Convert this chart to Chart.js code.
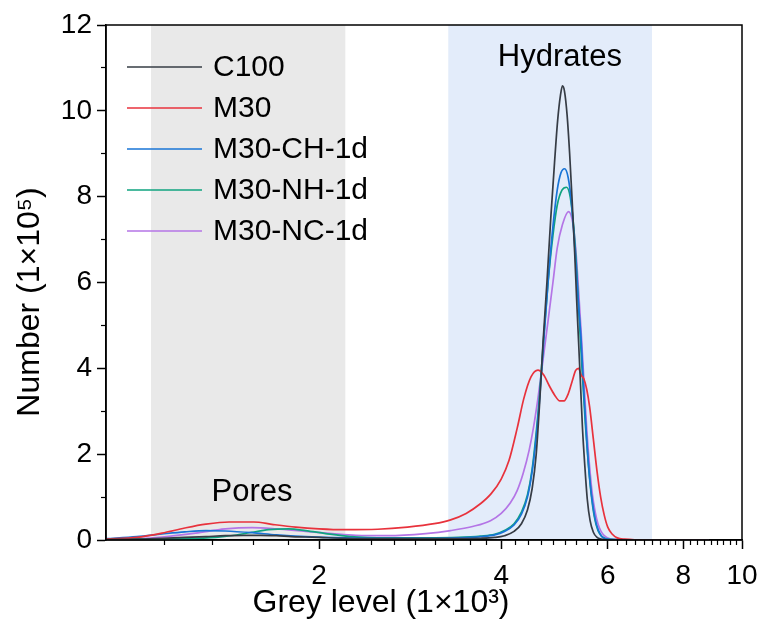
<!DOCTYPE html>
<html>
<head>
<meta charset="utf-8">
<script src="https://cdn.jsdelivr.net/npm/chart.js@4.4.0/dist/chart.umd.min.js"></script>
<style>
  html, body { margin: 0; padding: 0; background: #fff; }
</style>
</head>
<body>
<canvas id="grey-chart" width="771" height="641"></canvas>
<script>
// series names / colours
const seriesNames = ["C100", "M30", "M30-CH-1d", "M30-NH-1d", "M30-NC-1d"];
const seriesColors = ["#363c45", "#e8323c", "#1874d6", "#0fa37f", "#b475e6"];

// grey level (x 1000) and number (x 1e5)
const c100X = [0.889, 1.0, 1.1, 1.2, 1.3, 1.4, 1.5, 1.6, 1.7, 1.8, 1.9, 2.0, 2.2, 2.6, 3.0, 3.4, 3.7, 3.9, 4.05, 4.2, 4.32, 4.42, 4.5, 4.57, 4.63, 4.69, 4.76, 4.83, 4.9, 4.96, 5.01, 5.05, 5.09, 5.14, 5.19, 5.24, 5.29, 5.33, 5.37, 5.41, 5.45, 5.5, 5.55, 5.61, 5.68, 5.76, 5.85, 6.0, 7.0, 8.8];
const c100Y = [0.01, 0.02, 0.04, 0.06, 0.08, 0.1, 0.11, 0.11, 0.1, 0.08, 0.07, 0.06, 0.04, 0.03, 0.03, 0.03, 0.04, 0.06, 0.1, 0.2, 0.38, 0.7, 1.2, 2.0, 3.2, 4.6, 6.0, 7.5, 8.8, 9.8, 10.35, 10.58, 10.45, 9.9, 9.0, 7.9, 6.7, 5.6, 4.6, 3.6, 2.6, 1.7, 0.95, 0.45, 0.18, 0.06, 0.02, 0, 0, 0];

const m30X = [0.889, 1.0, 1.1, 1.2, 1.3, 1.42, 1.56, 1.68, 1.83, 2.0, 2.2, 2.5, 2.8, 3.1, 3.3, 3.5, 3.7, 3.85, 4.0, 4.12, 4.25, 4.36, 4.48, 4.6, 4.7, 4.8, 4.9, 5.0, 5.08, 5.16, 5.24, 5.31, 5.37, 5.42, 5.48, 5.54, 5.6, 5.68, 5.76, 5.84, 5.92, 6.0, 6.1, 6.22, 6.4, 7.0, 8.8];
const m30Y = [0.02, 0.06, 0.16, 0.28, 0.37, 0.42, 0.42, 0.36, 0.3, 0.26, 0.24, 0.25, 0.3, 0.38, 0.47, 0.62, 0.85, 1.08, 1.42, 1.85, 2.6, 3.3, 3.8, 3.96, 3.85, 3.6, 3.38, 3.24, 3.24, 3.4, 3.7, 3.95, 4.0, 3.85, 3.75, 3.5, 3.1, 2.35, 1.6, 1.0, 0.58, 0.3, 0.14, 0.05, 0.02, 0, 0];

const chX = [0.889, 1.0, 1.1, 1.2, 1.3, 1.4, 1.55, 1.7, 1.9, 2.2, 2.6, 3.0, 3.4, 3.7, 3.9, 4.05, 4.2, 4.32, 4.42, 4.5, 4.57, 4.63, 4.7, 4.78, 4.87, 4.95, 5.02, 5.09, 5.16, 5.23, 5.3, 5.36, 5.42, 5.48, 5.54, 5.6, 5.67, 5.75, 5.85, 5.95, 6.1, 7.0, 8.8];
const chY = [0.03, 0.08, 0.14, 0.19, 0.22, 0.21, 0.17, 0.12, 0.08, 0.05, 0.04, 0.04, 0.05, 0.08, 0.12, 0.2, 0.35, 0.6, 1.0, 1.6, 2.4, 3.3, 4.6, 6.0, 7.3, 8.15, 8.55, 8.65, 8.45, 7.8, 6.7, 5.6, 4.7, 3.4, 2.3, 1.45, 0.8, 0.35, 0.1, 0.03, 0.01, 0, 0];

const nhX = [0.889, 1.0, 1.2, 1.35, 1.45, 1.55, 1.65, 1.78, 1.9, 2.05, 2.25, 2.6, 3.0, 3.4, 3.7, 3.9, 4.05, 4.2, 4.32, 4.42, 4.5, 4.57, 4.63, 4.7, 4.78, 4.87, 4.95, 5.04, 5.13, 5.2, 5.27, 5.33, 5.39, 5.45, 5.51, 5.57, 5.63, 5.7, 5.78, 5.88, 6.0, 6.2, 7.0, 8.8];
const nhY = [0.01, 0.02, 0.03, 0.06, 0.11, 0.18, 0.24, 0.26, 0.22, 0.15, 0.08, 0.05, 0.05, 0.06, 0.09, 0.13, 0.22, 0.38, 0.65, 1.05, 1.65, 2.5, 3.4, 4.7, 6.0, 7.1, 7.8, 8.15, 8.22, 8.0, 7.3, 6.3, 5.0, 3.8, 2.7, 1.8, 1.1, 0.55, 0.22, 0.07, 0.02, 0.01, 0, 0];

const ncX = [0.889, 1.0, 1.1, 1.25, 1.4, 1.55, 1.7, 1.9, 2.1, 2.3, 2.6, 3.0, 3.3, 3.6, 3.84, 4.0, 4.14, 4.25, 4.35, 4.45, 4.52, 4.6, 4.69, 4.78, 4.87, 4.95, 5.05, 5.17, 5.25, 5.31, 5.37, 5.43, 5.49, 5.54, 5.6, 5.66, 5.72, 5.78, 5.84, 5.92, 6.05, 6.3, 7.0, 8.8];
const ncY = [0.01, 0.03, 0.07, 0.16, 0.26, 0.29, 0.26, 0.2, 0.15, 0.11, 0.1, 0.15, 0.22, 0.32, 0.45, 0.62, 0.86, 1.15, 1.56, 2.1, 2.6, 3.3, 4.2, 5.1, 6.0, 6.8, 7.35, 7.65, 7.4, 6.8, 5.8, 4.7, 3.5, 2.56, 1.7, 1.05, 0.65, 0.38, 0.22, 0.1, 0.03, 0.01, 0, 0];

const seriesX = [c100X, m30X, chX, nhX, ncX];
const seriesY = [c100Y, m30Y, chY, nhY, ncY];

// axis ticks
const xMin = 0.889, xMax = 10;
const xMajorTicks = [2, 4, 6, 8, 10];
const xMinorTicks = [1.111, 1.333, 1.556, 1.778, 2.222, 2.444, 2.667, 2.889, 3.111, 3.333, 3.556, 3.778,
  4.222, 4.444, 4.667, 4.889, 5.111, 5.333, 5.556, 5.778, 6.222, 6.444, 6.667, 6.889, 7.111, 7.333, 7.556, 7.778,
  8.222, 8.444, 8.667, 8.889, 9.111, 9.333, 9.556, 9.778];
const yMajorTicks = [0, 2, 4, 6, 8, 10, 12];
const yMinorTicks = [1, 3, 5, 7, 9, 11];

// shaded ranges and their labels
const bandNames = ["Pores", "Hydrates"];
const bandFrom = [1.055, 3.27];
const bandTo = [2.21, 7.1];
const bandColors = ["#e9e9e9", "#e3ecfa"];
const bandLabelX = [1.55, 5.0];
const bandLabelY = [1.1, 11.25];

const xTitle = "Grey level (1×10³)";
const yTitle = "Number (1×10⁵)";

const FONT = "'Liberation Sans', Arial, sans-serif";

const datasets = seriesNames.map((name, i) => ({
  label: name,
  data: seriesX[i].map((x, j) => ({ x: x, y: seriesY[i][j] })),
  borderColor: seriesColors[i],
  backgroundColor: seriesColors[i],
  borderWidth: 1.7,
  pointRadius: 0,
  cubicInterpolationMode: "monotone",
  fill: false,
}));

// bands behind everything
const bandsPlugin = {
  id: "bands",
  beforeDraw(chart) {
    const { ctx, chartArea, scales } = chart;
    ctx.save();
    bandNames.forEach((n, i) => {
      const x1 = scales.x.getPixelForValue(bandFrom[i]);
      const x2 = scales.x.getPixelForValue(bandTo[i]);
      ctx.fillStyle = bandColors[i];
      ctx.fillRect(x1, chartArea.top, x2 - x1, chartArea.bottom - chartArea.top);
    });
    ctx.restore();
  },
};

// frame, band labels, legend and axis titles on top
const overlayPlugin = {
  id: "overlay",
  afterDatasetsDraw(chart) {
    const { ctx, chartArea, scales } = chart;
    ctx.save();
    ctx.strokeStyle = "#000";
    ctx.lineWidth = 1.5;
    ctx.strokeRect(chartArea.left, chartArea.top, chartArea.right - chartArea.left, chartArea.bottom - chartArea.top);

    ctx.fillStyle = "#000";
    ctx.font = "31px " + FONT;
    ctx.textAlign = "center";
    ctx.textBaseline = "middle";
    bandNames.forEach((n, i) => {
      ctx.fillText(n, scales.x.getPixelForValue(bandLabelX[i]), scales.y.getPixelForValue(bandLabelY[i]));
    });

    // legend
    ctx.font = "30px " + FONT;
    ctx.textAlign = "left";
    chart.data.datasets.forEach((ds, i) => {
      const y = chartArea.top + 42 + i * 41;
      ctx.strokeStyle = ds.borderColor;
      ctx.lineWidth = 1.5;
      ctx.beginPath();
      ctx.moveTo(chartArea.left + 21, y);
      ctx.lineTo(chartArea.left + 96, y);
      ctx.stroke();
      ctx.fillStyle = "#000";
      ctx.fillText(ds.label, chartArea.left + 107, y + 1);
    });

    // axis titles
    ctx.font = "32px " + FONT;
    ctx.textAlign = "center";
    ctx.fillText(xTitle, 381, 603);
    ctx.translate(30, 302);
    ctx.rotate(-Math.PI / 2);
    ctx.fillText(yTitle, 0, 0);
    ctx.restore();
  },
};

const tickFont = { family: FONT, size: 28 };

new Chart(document.getElementById("grey-chart"), {
  type: "line",
  data: { datasets: datasets },
  plugins: [bandsPlugin, overlayPlugin],
  options: {
    responsive: false,
    animation: false,
    layout: { padding: { top: 25, right: 29, left: 0, bottom: 0 } },
    plugins: { legend: { display: false }, tooltip: { enabled: false } },
    scales: {
      x: {
        type: "logarithmic",
        position: "bottom",
        weight: 0,
        min: xMin,
        max: xMax,
        afterBuildTicks: (s) => { s.ticks = xMajorTicks.map((v) => ({ value: v })); },
        afterFit: (s) => { s.height = 101; },
        ticks: { color: "#000", font: tickFont, autoSkip: false, maxRotation: 0, padding: 10, callback: (v) => String(v) },
        grid: { drawOnChartArea: false, color: "#000", tickLength: 9, tickWidth: 1.5 },
        border: { display: true, color: "#000", width: 1.5 },
      },
      xMinor: {
        type: "logarithmic",
        position: "bottom",
        weight: -1,
        min: xMin,
        max: xMax,
        afterBuildTicks: (s) => { s.ticks = xMinorTicks.map((v) => ({ value: v })); },
        afterFit: (s) => { s.height = 0; },
        ticks: { display: false, autoSkip: false },
        grid: { drawOnChartArea: false, color: "#000", tickLength: 5, tickWidth: 1.2 },
        border: { display: false },
      },
      y: {
        type: "linear",
        position: "left",
        weight: 0,
        min: 0,
        max: 12,
        afterBuildTicks: (s) => { s.ticks = yMajorTicks.map((v) => ({ value: v })); },
        afterFit: (s) => { s.width = 106; },
        ticks: { color: "#000", font: tickFont, padding: 5 },
        grid: { drawOnChartArea: false, color: "#000", tickLength: 9, tickWidth: 1.5 },
        border: { display: true, color: "#000", width: 1.5 },
      },
      yMinor: {
        type: "linear",
        position: "left",
        weight: -1,
        min: 0,
        max: 12,
        afterBuildTicks: (s) => { s.ticks = yMinorTicks.map((v) => ({ value: v })); },
        afterFit: (s) => { s.width = 0; },
        ticks: { display: false },
        grid: { drawOnChartArea: false, color: "#000", tickLength: 5, tickWidth: 1.2 },
        border: { display: false },
      },
    },
  },
});
</script>
</body>
</html>
